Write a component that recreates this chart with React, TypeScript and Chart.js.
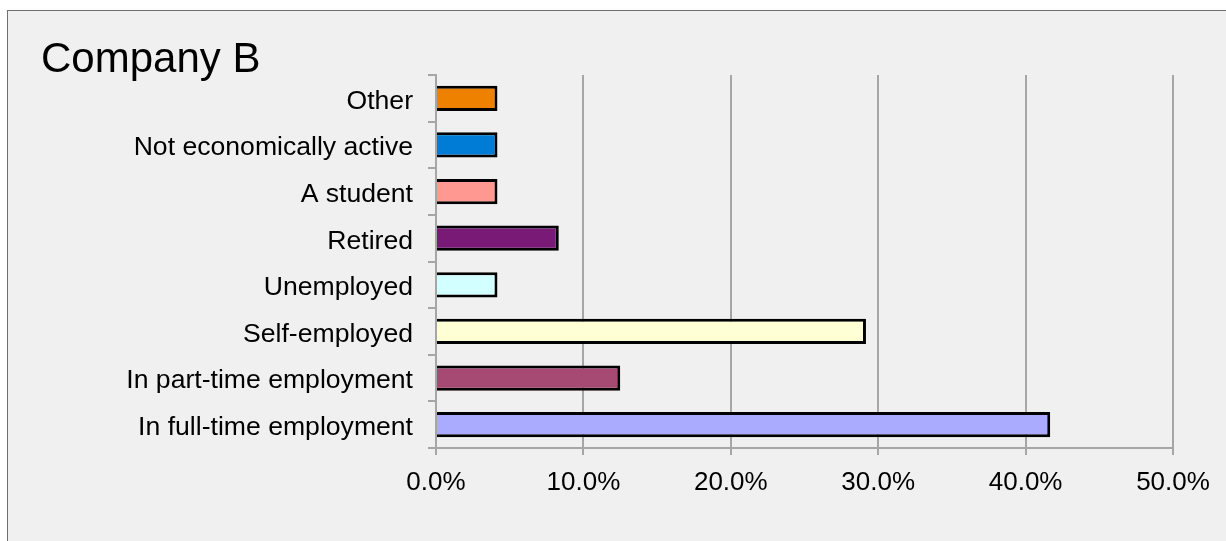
import React, { useEffect, useRef } from "react";
import { Chart, registerables } from "chart.js";

Chart.register(...registerables);

const categories = [
  "Other",
  "Not economically active",
  "A student",
  "Retired",
  "Unemployed",
  "Self-employed",
  "In part-time employment",
  "In full-time employment",
];
const values = [4.17, 4.17, 4.17, 8.33, 4.17, 29.17, 12.5, 41.67];
const barColors = [
  "#EE8100",
  "#007CD6",
  "#FF9890",
  "#7A1A77",
  "#D2FFFF",
  "#FFFFD6",
  "#A64A74",
  "#AAAAFF",
];
const xTicks = [0, 10, 20, 30, 40, 50];
const title = "Company B";

const FONT = "'Liberation Sans', Arial, sans-serif";

export default function App() {
  const ref = useRef<HTMLCanvasElement | null>(null);

  useEffect(() => {
    if (!ref.current) return;
    const chart = new Chart(ref.current, {
      type: "bar",
      data: {
        labels: categories,
        datasets: [
          {
            data: values,
            backgroundColor: barColors,
            borderColor: "#000000",
            borderWidth: 3,
            barPercentage: 0.54,
            categoryPercentage: 1,
          },
        ],
      },
      options: {
        indexAxis: "y",
        responsive: false,
        animation: false,
        devicePixelRatio: 1,
        layout: { padding: { left: 0, top: 64, right: 53, bottom: 0 } },
        plugins: {
          legend: { display: false },
          tooltip: { enabled: false },
          title: { display: false },
        },
        scales: {
          x: {
            min: xTicks[0],
            max: xTicks[xTicks.length - 1],
            afterFit: (s: any) => {
              s.height = 93;
            },
            afterBuildTicks: (s: any) => {
              s.ticks = xTicks.map((v) => ({ value: v }));
            },
            ticks: {
              stepSize: 10,
              padding: 12,
              color: "#000000",
              font: { family: FONT, size: 26 },
              callback: (v: any) => Number(v).toFixed(1) + "%",
            },
            grid: {
              color: "#a6a6a6",
              lineWidth: 2,
              tickLength: 7,
              drawTicks: true,
            },
            border: { color: "#a6a6a6", width: 2 },
          },
          y: {
            z: 1,
            afterFit: (s: any) => {
              s.width = 428;
            },
            ticks: {
              padding: 15,
              labelOffset: 3,
              color: "#000000",
              font: { family: FONT, size: 26.6 },
            },
            grid: {
              drawOnChartArea: false,
              drawTicks: true,
              tickLength: 8,
              color: "#a6a6a6",
              lineWidth: 2,
              offset: true,
            },
            border: { color: "#a6a6a6", width: 2 },
          },
        },
      },
    });
    return () => chart.destroy();
  }, []);

  return (
    <div
      style={{
        position: "fixed",
        left: 7,
        top: 10,
        width: 1240,
        height: 560,
        border: "1px solid #707070",
        background: "#f0f0f0",
      }}
    >
      <canvas
        ref={ref}
        width={1218}
        height={530}
        style={{ position: "absolute", left: 0, top: 0, width: 1218, height: 530 }}
      />
      <div
        style={{
          position: "absolute",
          left: 33,
          top: 26,
          fontFamily: FONT,
          fontSize: 42,
          lineHeight: "42px",
          color: "#000000",
          whiteSpace: "nowrap",
        }}
      >
        {title}
      </div>
    </div>
  );
}
